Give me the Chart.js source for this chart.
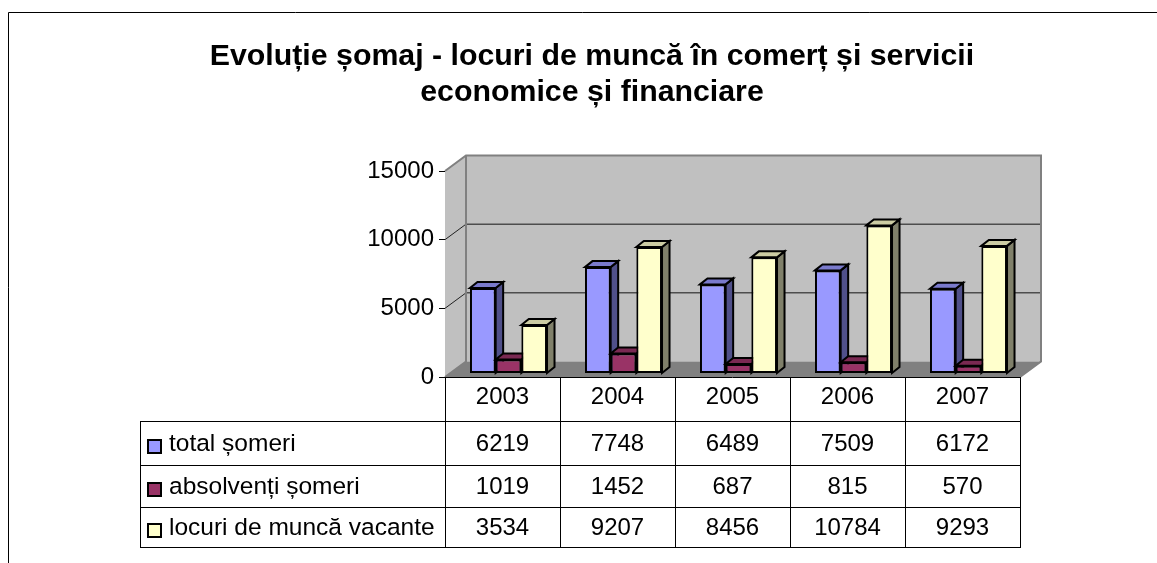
<!DOCTYPE html>
<html><head><meta charset="utf-8">
<style>html,body{margin:0;padding:0;background:#fff;overflow:hidden}canvas{display:block}</style>
<script src="https://cdn.jsdelivr.net/npm/chart.js@4"></script>
</head><body><canvas id="c" width="1157" height="563"></canvas>
<script>
const titleLines = ["Evoluție șomaj - locuri de muncă în comerț și servicii", "economice și financiare"];
const categories = ["2003", "2004", "2005", "2006", "2007"];
const seriesNames = ["total șomeri", "absolvenți șomeri", "locuri de muncă vacante"];
const totalSomeri = [6219, 7748, 6489, 7509, 6172];
const absolventiSomeri = [1019, 1452, 687, 815, 570];
const locuriVacante = [3534, 9207, 8456, 10784, 9293];
const yTicks = [0, 5000, 10000, 15000];

const FONT = '"Liberation Sans", Arial, sans-serif';
const TEXT_SIZE = 24;
const LEGEND_SIZE = 24.5;
const front = ["#9999ff", "#993366", "#ffffcc"];
const tops = ["#7a7acc", "#7a2952", "#cccca3"];
const sides = ["#50508a", "#501b36", "#80806a"];
const WALL = {dx: 21, dy: -15.5};
const BAR = {dx: 7.5, dy: -6, shiftX: 6, shiftY: -3.5};
const rowLines = [421, 465, 507, 547];
const tableLeft = 140;

function poly(ctx, pts, fill, stroke, lw) {
  ctx.beginPath();
  pts.forEach((p, i) => i ? ctx.lineTo(p[0], p[1]) : ctx.moveTo(p[0], p[1]));
  ctx.closePath();
  if (fill) { ctx.fillStyle = fill; ctx.fill(); }
  if (stroke) { ctx.strokeStyle = stroke; ctx.lineWidth = lw; ctx.lineJoin = "miter"; ctx.stroke(); }
}
function line(ctx, x1, y1, x2, y2, c, lw) {
  ctx.beginPath(); ctx.moveTo(x1, y1); ctx.lineTo(x2, y2);
  ctx.strokeStyle = c; ctx.lineWidth = lw; ctx.stroke();
}

const scene = {
  id: "scene3d",
  beforeDatasetsDraw(chart) {
    const ctx = chart.ctx, x = chart.scales.x, y = chart.scales.y;
    const l = x.left, r = x.right, b = y.getPixelForValue(0), t = y.getPixelForValue(15000);
    const {dx, dy} = WALL;
    ctx.save();
    // page frame
    ctx.beginPath(); ctx.moveTo(8.5, 563); ctx.lineTo(8.5, 12.5); ctx.lineTo(1157, 12.5);
    ctx.strokeStyle = "#000"; ctx.lineWidth = 1; ctx.stroke();
    // walls
    poly(ctx, [[l + dx, t + dy], [r + dx, t + dy], [r + dx, b + dy], [l + dx, b + dy]], "#c0c0c0");
    poly(ctx, [[l, t], [l + dx, t + dy], [l + dx, b + dy], [l, b]], "#c0c0c0");
    poly(ctx, [[l, b], [l + dx, b + dy], [r + dx, b + dy], [r, b]], "#808080");
    // gridlines on both walls
    yTicks.slice(1, -1).forEach(v => {
      const p = y.getPixelForValue(v);
      line(ctx, l + dx, p + dy, r + dx, p + dy, "#4d4d4d", 1.5);
      line(ctx, l, p, l + dx, p + dy, "#222", 1);
    });
    // wall edges
    ctx.beginPath();
    ctx.moveTo(l, t); ctx.lineTo(l + dx, t + dy); ctx.lineTo(r + dx, t + dy); ctx.lineTo(r + dx, b + dy); ctx.lineTo(r, b);
    ctx.moveTo(l + dx, t + dy); ctx.lineTo(l + dx, b + dy); ctx.lineTo(l, b);
    ctx.strokeStyle = "#808080"; ctx.lineWidth = 2; ctx.stroke();
    // bars: series in order, so each front face covers the previous side face
    for (let i = 0; i < chart.data.datasets.length; i++) {
      const meta = chart.getDatasetMeta(i);
      ctx.save();
      ctx.translate(BAR.shiftX, BAR.shiftY);
      meta.data.forEach(el => {
        const p = el.getProps(["x", "y", "base", "width"], true);
        const L = p.x - p.width / 2, R = p.x + p.width / 2, T = p.y, B = p.base;
        poly(ctx, [[R, T], [R + BAR.dx, T + BAR.dy], [R + BAR.dx, B + BAR.dy], [R, B]], sides[i], "#000", 2);
        poly(ctx, [[L, T], [L + BAR.dx, T + BAR.dy], [R + BAR.dx, T + BAR.dy], [R, T]], tops[i], "#000", 2);
      });
      meta.controller.draw();
      ctx.restore();
    }
    ctx.restore();
    return false;
  },
  afterDraw(chart) {
    const ctx = chart.ctx, x = chart.scales.x, y = chart.scales.y;
    const b = y.getPixelForValue(0), step = (x.right - x.left) / categories.length;
    ctx.save();
    // table grid
    line(ctx, x.left, Math.round(b) + 0.5, x.right, Math.round(b) + 0.5, "#000", 1);
    rowLines.forEach(v => line(ctx, tableLeft, v + 0.5, x.right, v + 0.5, "#000", 1));
    line(ctx, tableLeft + 0.5, rowLines[0], tableLeft + 0.5, rowLines[3] + 1, "#000", 1);
    for (let i = 0; i <= categories.length; i++) {
      const px = Math.round(x.left + i * step) + 0.5;
      line(ctx, px, b, px, rowLines[3] + 1, "#000", 1);
    }
    // table rows
    ctx.textBaseline = "middle";
    chart.data.datasets.forEach((ds, r) => {
      const cy = (rowLines[r] + rowLines[r + 1]) / 2 + 1;
      ctx.fillStyle = "#000";
      ctx.textAlign = "left";
      ctx.font = LEGEND_SIZE + "px " + FONT;
      ctx.fillText(seriesNames[r], 169, cy);
      ctx.textAlign = "center";
      ctx.font = TEXT_SIZE + "px " + FONT;
      ds.data.forEach((v, c) => ctx.fillText(String(v), x.getPixelForValue(c), cy));
      ctx.fillStyle = front[r];
      ctx.strokeStyle = "#000"; ctx.lineWidth = 2;
      ctx.fillRect(148, cy - 4, 13, 13);
      ctx.strokeRect(148, cy - 4, 13, 13);
    });
    ctx.restore();
  }
};

new Chart(document.getElementById("c"), {
  type: "bar",
  data: {
    labels: categories,
    datasets: [totalSomeri, absolventiSomeri, locuriVacante].map((d, i) => ({
      label: seriesNames[i], data: d, clip: false,
      backgroundColor: front[i], borderColor: "#000", borderWidth: 2, borderSkipped: false,
      barPercentage: 1, categoryPercentage: 0.67
    }))
  },
  options: {
    responsive: false, animation: false,
    layout: {padding: {left: 27, right: 0, top: 0, bottom: 0}},
    plugins: {
      legend: {display: false}, tooltip: {enabled: false},
      title: {
        display: true, text: titleLines, color: "#000", fullSize: true,
        font: {family: FONT, size: 30.3, weight: "bold", lineHeight: 35.5 / 30.3},
        padding: {top: 39, bottom: 61}
      }
    },
    scales: {
      x: {
        afterFit(s) { s.height = 186; },
        grid: {display: false}, border: {display: false},
        ticks: {color: "#000", font: {family: FONT, size: TEXT_SIZE}, padding: -2, maxRotation: 0}
      },
      y: {
        min: 0, max: 15000,
        afterFit(s) { s.width = 418; },
        afterBuildTicks(s) { s.ticks = yTicks.map(v => ({value: v})); },
        grid: {drawOnChartArea: false, tickColor: "#000", tickLength: 6, lineWidth: 1},
        border: {display: true, color: "#000", width: 1},
        ticks: {color: "#000", font: {family: FONT, size: TEXT_SIZE}, padding: 5, callback: v => String(v)}
      },
      rightGap: {
        position: "right", display: true, min: 0, max: 1,
        afterFit(s) { s.width = 137; },
        grid: {display: false}, border: {display: false}, ticks: {display: false}
      }
    }
  },
  plugins: [scene]
});
</script></body></html>
